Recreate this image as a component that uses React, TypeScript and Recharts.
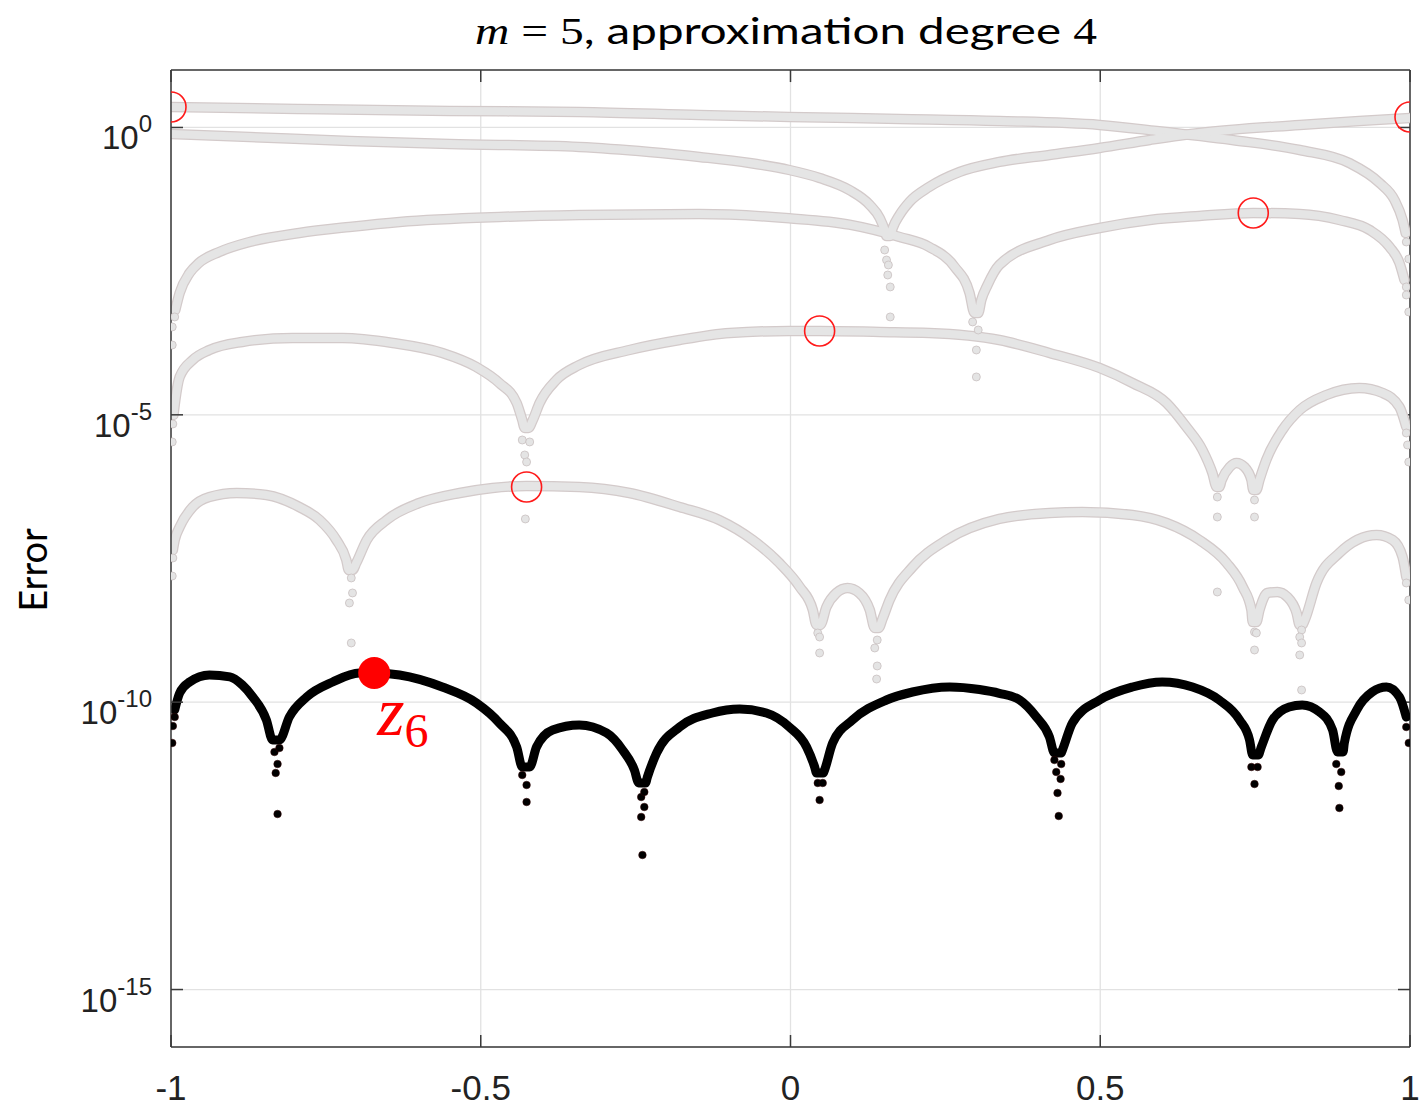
import React from 'react';
import { ComposedChart, Line, Scatter, XAxis, YAxis, CartesianGrid, ReferenceLine } from 'recharts';

type P = [number, number]; // [x, log10(error)]

const xTicks = [-1, -0.5, 0, 0.5, 1];
const xTickLabels = ['-1', '-0.5', '0', '0.5', '1'];
const yTickExponents = [-15, -10, -5, 0];

// iteration 1
const iter1Curve: P[] = [
  [-1.0, 0.357], [-0.793, 0.322], [-0.55, 0.287], [-0.341, 0.27], [-0.147, 0.218], [-0.002, 0.183],
  [0.176, 0.148], [0.337, 0.113], [0.499, 0.044], [0.591, -0.061], [0.713, -0.218], [0.822, -0.392],
  [0.902, -0.618], [0.951, -0.966], [0.975, -1.262], [0.988, -1.61], [0.993, -1.836],
];
const iter1Dips: P[] = [[0.994, -1.992], [0.998, -2.288]];

// iteration 2
const iter2Curve: P[] = [
  [-1.0, -0.113], [-0.873, -0.165], [-0.712, -0.235], [-0.55, -0.287], [-0.341, -0.339], [-0.228, -0.426],
  [-0.147, -0.513], [-0.066, -0.618], [-0.002, -0.74], [0.047, -0.879], [0.095, -1.088], [0.128, -1.349],
  [0.144, -1.575], [0.152, -1.784], [0.155, -1.888], [0.161, -1.888], [0.165, -1.749], [0.176, -1.523],
  [0.192, -1.296], [0.224, -1.035], [0.273, -0.774], [0.337, -0.6], [0.418, -0.478], [0.499, -0.357],
  [0.58, -0.218], [0.66, -0.096], [0.822, 0.044], [0.918, 0.113], [1.0, 0.165],
];
const iter2Dips: P[] = [
  [0.152, -2.132], [0.155, -2.306], [0.158, -2.393], [0.157, -2.567], [0.161, -2.775], [0.161, -3.297],
];

// iteration 3
const iter3Curve: P[] = [
  [-0.993, -3.176], [-0.986, -2.88], [-0.97, -2.532], [-0.955, -2.358], [-0.922, -2.166], [-0.873, -1.992],
  [-0.793, -1.836], [-0.712, -1.731], [-0.631, -1.644], [-0.47, -1.557], [-0.341, -1.523], [-0.147, -1.505],
  [-0.002, -1.58], [0.095, -1.69], [0.176, -1.905], [0.224, -2.079], [0.265, -2.427], [0.289, -2.88],
  [0.297, -3.228], [0.303, -3.228], [0.308, -3.002], [0.318, -2.741], [0.337, -2.393], [0.418, -1.958],
  [0.499, -1.749], [0.58, -1.61], [0.66, -1.54], [0.747, -1.488], [0.822, -1.505], [0.886, -1.61],
  [0.935, -1.784], [0.967, -2.079], [0.983, -2.358], [0.991, -2.654],
];
const iter3Dips: P[] = [
  [-0.998, -3.785], [-0.998, -3.471], [-0.994, -3.297],
  [0.294, -3.384], [0.303, -3.524], [0.3, -3.872], [0.3, -4.341],
  [0.994, -2.775], [0.994, -2.915], [0.998, -3.21],
];

// iteration 4
const iter4Curve: P[] = [
  [-0.996, -5.003], [-0.993, -4.742], [-0.986, -4.341], [-0.965, -4.046], [-0.938, -3.872], [-0.885, -3.732],
  [-0.804, -3.663], [-0.723, -3.663], [-0.642, -3.75], [-0.562, -3.924], [-0.507, -4.168], [-0.47, -4.446],
  [-0.442, -4.794], [-0.433, -5.09], [-0.429, -5.229], [-0.423, -5.229], [-0.416, -5.09], [-0.405, -4.794],
  [-0.378, -4.394], [-0.341, -4.133], [-0.26, -3.872], [-0.179, -3.698], [-0.098, -3.576], [-0.002, -3.541],
  [0.047, -3.541], [0.144, -3.558], [0.224, -3.576], [0.337, -3.698], [0.418, -3.924], [0.499, -4.185],
  [0.552, -4.446], [0.607, -4.794], [0.639, -5.211], [0.665, -5.612], [0.681, -6.012], [0.688, -6.256],
  [0.692, -6.256], [0.696, -6.134], [0.709, -5.908], [0.72, -5.838], [0.733, -5.908], [0.744, -6.134],
  [0.747, -6.308], [0.752, -6.308], [0.757, -6.134], [0.768, -5.786], [0.794, -5.264], [0.822, -4.916],
  [0.865, -4.655], [0.918, -4.533], [0.956, -4.62], [0.983, -4.864], [0.994, -5.211],
];
const iter4Dips: P[] = [
  [-0.997, -5.159], [-0.998, -5.472],
  [-0.433, -5.438], [-0.421, -5.472], [-0.429, -5.699], [-0.426, -5.821], [-0.428, -6.812],
  [0.689, -6.43], [0.689, -6.778], [0.689, -8.083],
  [0.749, -6.482], [0.749, -6.778],
  [0.994, -5.316], [0.996, -5.525], [0.998, -5.821],
];

// iteration 5
const iter5Curve: P[] = [
  [-0.997, -7.352], [-0.994, -7.178], [-0.986, -6.952], [-0.965, -6.604], [-0.938, -6.43], [-0.894, -6.36],
  [-0.846, -6.395], [-0.793, -6.604], [-0.76, -6.83], [-0.733, -7.178], [-0.717, -7.526], [-0.713, -7.7],
  [-0.707, -7.7], [-0.701, -7.578], [-0.684, -7.178], [-0.652, -6.83], [-0.599, -6.534], [-0.534, -6.36],
  [-0.481, -6.273], [-0.426, -6.238], [-0.341, -6.256], [-0.26, -6.36], [-0.179, -6.604], [-0.115, -6.83],
  [-0.061, -7.178], [-0.018, -7.578], [0.015, -7.996], [0.036, -8.396], [0.042, -8.657], [0.048, -8.657],
  [0.058, -8.344], [0.074, -8.1], [0.092, -8.013], [0.111, -8.1], [0.128, -8.396], [0.136, -8.709],
  [0.142, -8.709], [0.149, -8.535], [0.16, -8.222], [0.197, -7.648], [0.252, -7.178], [0.337, -6.812],
  [0.418, -6.708], [0.471, -6.691], [0.552, -6.743], [0.607, -6.882], [0.66, -7.178], [0.704, -7.578],
  [0.73, -7.996], [0.744, -8.396], [0.746, -8.605], [0.752, -8.605], [0.757, -8.396], [0.77, -8.1],
  [0.786, -8.083], [0.802, -8.169], [0.817, -8.448], [0.822, -8.657], [0.826, -8.657], [0.83, -8.57],
  [0.849, -7.926], [0.886, -7.404], [0.946, -7.091], [0.972, -7.178], [0.988, -7.474], [0.994, -7.822],
];
const iter5Dips: P[] = [
  [-0.997, -7.491], [-0.998, -7.805],
  [-0.709, -7.839], [-0.707, -8.1], [-0.712, -8.274], [-0.709, -8.97],
  [0.044, -8.796], [0.047, -8.866], [0.047, -9.144],
  [0.14, -8.918], [0.136, -9.057], [0.14, -9.37], [0.139, -9.597],
  [0.749, -8.779], [0.752, -8.796], [0.749, -9.092],
  [0.825, -8.744], [0.822, -8.866], [0.825, -8.97], [0.822, -9.179], [0.825, -9.788],
  [0.994, -7.926], [0.998, -8.222],
];

// final iteration (black)
const finalCurve: P[] = [
  [-0.994, -10.136], [-0.986, -9.84], [-0.97, -9.649], [-0.938, -9.527], [-0.905, -9.56], [-0.885, -9.7],
  [-0.868, -9.91], [-0.846, -10.31], [-0.836, -10.658], [-0.825, -10.658], [-0.809, -10.258], [-0.781, -9.91],
  [-0.739, -9.649], [-0.696, -9.492], [-0.672, -9.492], [-0.631, -9.527], [-0.562, -9.736], [-0.507, -10.014],
  [-0.47, -10.362], [-0.442, -10.78], [-0.433, -11.128], [-0.421, -11.128], [-0.41, -10.78], [-0.384, -10.484],
  [-0.341, -10.397], [-0.297, -10.536], [-0.271, -10.832], [-0.252, -11.18], [-0.245, -11.406], [-0.234, -11.406],
  [-0.231, -11.302], [-0.216, -10.884], [-0.179, -10.432], [-0.126, -10.188], [-0.082, -10.119], [-0.039, -10.188],
  [-0.002, -10.432], [0.026, -10.78], [0.039, -11.128], [0.042, -11.232], [0.053, -11.232], [0.055, -11.18],
  [0.068, -10.71], [0.1, -10.31], [0.155, -9.962], [0.197, -9.823], [0.257, -9.736], [0.305, -9.78],
  [0.337, -9.845], [0.37, -9.962], [0.397, -10.258], [0.418, -10.606], [0.426, -10.884], [0.437, -10.884],
  [0.439, -10.832], [0.455, -10.362], [0.499, -9.962], [0.552, -9.736], [0.6, -9.649], [0.649, -9.736],
  [0.692, -9.962], [0.725, -10.31], [0.741, -10.658], [0.746, -10.919], [0.755, -10.919], [0.76, -10.78],
  [0.778, -10.31], [0.805, -10.084], [0.826, -10.049], [0.854, -10.171], [0.875, -10.484], [0.883, -10.867],
  [0.892, -10.867], [0.894, -10.71], [0.914, -10.136], [0.939, -9.823], [0.962, -9.736], [0.983, -9.91],
  [0.994, -10.258],
];
const finalDips: P[] = [
  [-0.994, -10.258], [-0.997, -10.415], [-0.998, -10.71],
  [-0.833, -10.867], [-0.825, -10.797], [-0.828, -11.076], [-0.831, -11.232], [-0.828, -11.946],
  [-0.433, -11.267], [-0.426, -11.441], [-0.426, -11.737],
  [-0.241, -11.65], [-0.236, -11.563], [-0.236, -11.824], [-0.241, -11.998], [-0.239, -12.659],
  [0.044, -11.406], [0.052, -11.406], [0.047, -11.702],
  [0.426, -11.006], [0.437, -11.076], [0.429, -11.215], [0.436, -11.336], [0.431, -11.58], [0.433, -11.981],
  [0.744, -11.128], [0.754, -11.128], [0.749, -11.424],
  [0.881, -11.076], [0.889, -11.215], [0.885, -11.459], [0.886, -11.841],
  [0.994, -10.432], [0.998, -10.71],
];

// maxima of each iteration (open red circles) and the highlighted point z6
const iterationMaxima: P[] = [
  [-1.0, 0.357], [1.0, 0.183], [0.747, -1.488], [0.047, -3.541], [-0.426, -6.256],
];
const z6Point: P[] = [[-0.672, -9.492]];

const toRows = (pts: P[]) => pts.map(([x, e]) => ({ x, y: Math.pow(10, e) }));

const grayCurves = [iter1Curve, iter2Curve, iter3Curve, iter4Curve, iter5Curve].map(toRows);
const grayDips = [...iter1Dips, ...iter2Dips, ...iter3Dips, ...iter4Dips, ...iter5Dips];
const yTicks = yTickExponents.map((k) => Math.pow(10, k));

const X_MIN = -1;
const X_MAX = 1;
const Y_MIN = 1e-16;
const Y_MAX = 10;
// inward tick length for the top / right edges of the box, in axis units (~12 px)
const TOP_TICK_END = Math.pow(10, 1 - 0.21);
const RIGHT_TICK_END = 1 - 0.0194;

const FRAME = '#3a3a3a';

const XTick = (props: any) => {
  const { x, y, payload } = props;
  const i = xTicks.indexOf(payload.value);
  return (
    <text x={x} y={y + 53} textAnchor="middle" fontFamily="'Liberation Sans', Arial, sans-serif" fontSize={35} fill="#222">
      {i >= 0 ? xTickLabels[i] : String(payload.value)}
    </text>
  );
};

const YTick = (props: any) => {
  const { x, y, payload } = props;
  const k = Math.round(Math.log10(payload.value));
  return (
    <text x={x} y={y + 22} textAnchor="end" fontFamily="'Liberation Sans', Arial, sans-serif" fontSize={33} fill="#222">
      <tspan>10</tspan>
      <tspan dy={-17} fontSize={24}>{String(k)}</tspan>
    </text>
  );
};

const grayDot = (p: any) => (
  <circle cx={p.cx} cy={p.cy} r={4} fill="#e4e4e4" stroke="#c9c0c0" strokeWidth={0.8} />
);
const blackDot = (p: any) => <circle cx={p.cx} cy={p.cy} r={3.8} fill="#000" stroke="#300" strokeWidth={0.5} />;
const redCircle = (p: any) => (
  <circle cx={p.cx} cy={p.cy} r={15} fill="none" stroke="#ff1a1a" strokeWidth={1.6} />
);
const z6Shape = (p: any) => (
  <g>
    <circle cx={p.cx} cy={p.cy} r={16} fill="#ff0000" />
    <text x={p.cx + 3} y={p.cy + 62} fill="#ff0000" fontFamily="'Liberation Serif', 'DejaVu Serif', serif">
      <tspan fontStyle="italic" fontSize={70}>z</tspan>
      <tspan fontSize={48} dy={12}>6</tspan>
    </text>
  </g>
);

export default function App() {
  return (
    <div style={{ position: 'relative', width: 1420, height: 1100, background: '#fff' }}>
      <ComposedChart width={1420} height={1100} margin={{ top: 62, right: 18, bottom: 11, left: 63 }}>
        <CartesianGrid stroke="#e2e2e2" strokeWidth={1.3} />
        <XAxis
          dataKey="x"
          type="number"
          domain={[X_MIN, X_MAX]}
          ticks={xTicks}
          interval={0}
          allowDataOverflow
          height={50}
          tickSize={-12}
          tickMargin={12}
          stroke={FRAME}
          strokeWidth={1.5}
          tick={<XTick />}
        />
        <YAxis
          dataKey="y"
          type="number"
          scale="log"
          domain={[Y_MIN, Y_MAX]}
          ticks={yTicks}
          interval={0}
          allowDataOverflow
          width={100}
          tickSize={-12}
          tickMargin={31}
          stroke={FRAME}
          strokeWidth={1.5}
          tick={<YTick />}
        />
        {/* top and right edges of the box, with inward ticks */}
        <ReferenceLine y={Y_MAX} stroke={FRAME} strokeWidth={1.5} />
        <ReferenceLine x={X_MAX} stroke={FRAME} strokeWidth={1.5} />
        {xTicks.map((t) => (
          <ReferenceLine
            key={'tt' + t}
            segment={[{ x: t, y: Y_MAX }, { x: t, y: TOP_TICK_END }]}
            stroke={FRAME}
            strokeWidth={1.5}
          />
        ))}
        {yTicks.map((t) => (
          <ReferenceLine
            key={'rt' + t}
            segment={[{ x: X_MAX, y: t }, { x: RIGHT_TICK_END, y: t }]}
            stroke={FRAME}
            strokeWidth={1.5}
          />
        ))}
        {grayCurves.map((rows, i) => (
          <Line
            key={'go' + i}
            data={rows}
            dataKey="y"
            type="monotone"
            stroke="#d3caca"
            strokeWidth={10.5}
            strokeLinejoin="round"
            strokeLinecap="round"
            dot={false}
            activeDot={false}
            isAnimationActive={false}
          />
        ))}
        {grayCurves.map((rows, i) => (
          <Line
            key={'gi' + i}
            data={rows}
            dataKey="y"
            type="monotone"
            stroke="#e5e5e5"
            strokeWidth={8}
            strokeLinejoin="round"
            strokeLinecap="round"
            dot={false}
            activeDot={false}
            isAnimationActive={false}
          />
        ))}
        <Scatter data={toRows(grayDips)} shape={grayDot} isAnimationActive={false} />
        <Line
          data={toRows(finalCurve)}
          dataKey="y"
          type="monotone"
          stroke="#000"
          strokeWidth={9}
          strokeLinejoin="round"
          strokeLinecap="round"
          dot={false}
          activeDot={false}
          isAnimationActive={false}
        />
        <Scatter data={toRows(finalDips)} shape={blackDot} isAnimationActive={false} />
        <Scatter data={toRows(iterationMaxima)} shape={redCircle} isAnimationActive={false} />
        <Scatter data={toRows(z6Point)} shape={z6Shape} isAnimationActive={false} />
      </ComposedChart>
      <svg width={1428} height={1109} style={{ position: 'absolute', left: -8, top: -8, pointerEvents: 'none' }}>
        <text x={786} y={44} textAnchor="middle" fontSize={37} fill="#000" fontFamily="Lato, 'Open Sans', sans-serif" textLength={622} lengthAdjust="spacingAndGlyphs">
          <tspan fontFamily="'Liberation Serif', serif" fontStyle="italic">m</tspan>
          <tspan fontFamily="'Liberation Serif', serif"> = 5</tspan>
          <tspan>, approximation degree </tspan>
          <tspan fontFamily="'Liberation Serif', serif">4</tspan>
        </text>
        <text x={47} y={570} textAnchor="middle" fontSize={38} fill="#000" fontFamily="Lato, 'Open Sans', sans-serif" transform="rotate(-90 47 570)">
          Error
        </text>
      </svg>
    </div>
  );
}
